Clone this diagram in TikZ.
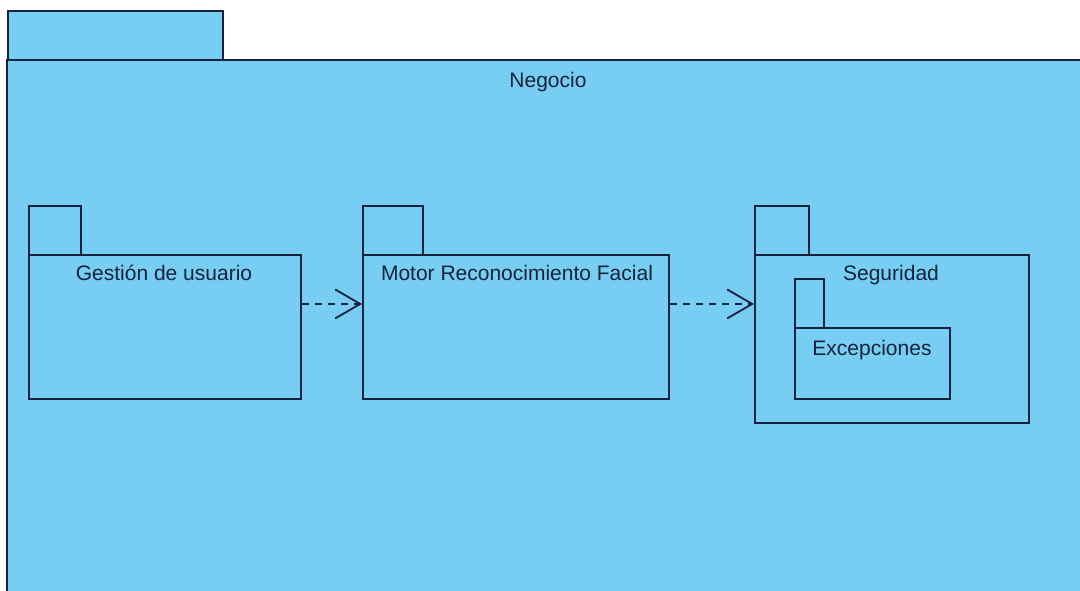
\documentclass[tikz,border=0pt]{standalone}
\usepackage{fontspec}
\setmainfont{Liberation Sans}
\usetikzlibrary{arrows.meta}
\definecolor{pkgfill}{RGB}{120,206,242}
\definecolor{pkgline}{RGB}{22,34,62}
\definecolor{pkgtext}{RGB}{20,34,60}
\begin{document}
\begin{tikzpicture}[x=1pt,y=-1pt,
  pkg/.style={draw=pkgline, fill=pkgfill, line width=1.9pt, rectangle, inner sep=0pt, anchor=north west},
  lbl/.style={font=\fontsize{21}{24}\selectfont, text=pkgtext, anchor=base, inner sep=0pt},
  dep/.style={draw=pkgline, line width=1.8pt, dash pattern=on 7pt off 6pt,
    -{Straight Barb[length=25pt,width=29pt,line width=1.8pt]}}]
\useasboundingbox (0,0) rectangle (1080,591);
% outer package Negocio
\node[pkg, minimum width=215pt, minimum height=50pt] (negtab) at (7,10) {};
\fill[pkgfill] (7,60) rectangle (1085,596);
\draw[pkgline, line width=1.9pt] (7,596) -- (7,60) -- (1085,60);
\node[lbl] (tneg) at (548,88) {Negocio};
% Gestion de usuario
\node[pkg, minimum width=52pt, minimum height=49pt] (gutab) at (28,205) {};
\node[pkg, minimum width=272pt, minimum height=144pt] (gu) at (28,254) {};
\node[lbl] (tgu) at (164,280) {Gestión de usuario};
% Motor Reconocimiento Facial
\node[pkg, minimum width=60pt, minimum height=49pt] (mrtab) at (362,205) {};
\node[pkg, minimum width=306pt, minimum height=144pt] (mr) at (362,254) {};
\node[lbl] (tmr) at (517,280) {Motor Reconocimiento Facial};
% Seguridad
\node[pkg, minimum width=54pt, minimum height=49pt] (sgtab) at (754,205) {};
\node[pkg, minimum width=274pt, minimum height=168pt] (sg) at (754,254) {};
\node[lbl] (tsg) at (891,280) {Seguridad};
% Excepciones
\node[pkg, minimum width=29pt, minimum height=49pt] (extab) at (794,278) {};
\node[pkg, minimum width=155pt, minimum height=71pt] (ex) at (794,327) {};
\node[lbl] (tex) at (872,355) {Excepciones};
% dependencies
\coordinate (a1) at ([yshift=23pt]gu.east);
\coordinate (a2) at ([yshift=23pt]mr.east);
\draw[dep] (a1) -- (a1 -| mr.west);
\draw[dep] (a2) -- (a2 -| sg.west);
\end{tikzpicture}
\end{document}
